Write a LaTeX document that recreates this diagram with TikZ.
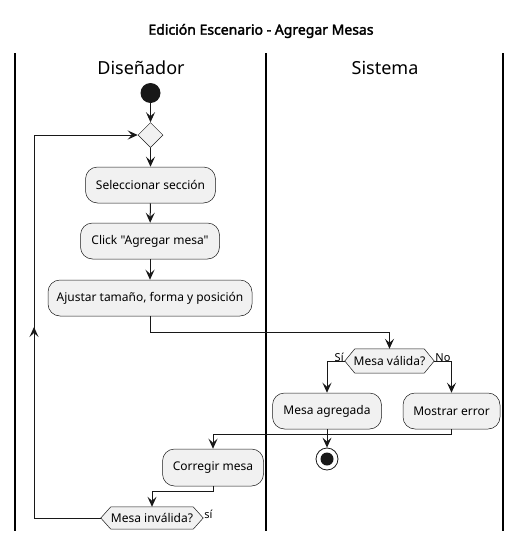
\documentclass[tikz,border=0pt]{standalone}
\usepackage{fontspec}
\setmainfont{Noto Sans}[AutoFakeBold=2.2, Ligatures=TeXOff]
\usetikzlibrary{arrows.meta,shapes.geometric,backgrounds}
\definecolor{lc}{HTML}{181818}
\definecolor{bf}{HTML}{F1F1F1}
\tikzset{
  every node/.style={font=\fontsize{12}{14}\selectfont, text=black},
  actbox/.style={draw=lc, line width=0.5pt, fill=bf, rounded corners=12pt, inner sep=0pt, minimum height=36pt},
  arr/.style={draw=lc, line width=1pt, -{Stealth[length=10pt,width=9pt,inset=4pt]}},
  ln/.style={draw=lc, line width=1pt},
  lane/.style={draw=black, line width=1.5pt},
  hexn/.style={inner sep=0pt, minimum height=24pt},
  hexs/.style={draw=lc, line width=0.5pt, fill=bf},
  lbl/.style={font=\fontsize{11}{13}\selectfont, inner sep=0pt},
}
\begin{document}
\begin{tikzpicture}[x=1pt,y=-1pt]
\useasboundingbox (0,0) rectangle (522,541);
% title
\node[font=\fontsize{14}{16}\selectfont\bfseries] (title) at (261,31) {Edición Escenario - Agregar Mesas};
% lanes
\draw[lane] (15,53) -- (15,531);
\draw[lane] (266,53) -- (266,531);
\draw[lane] (503,53) -- (503,531);
\node[font=\fontsize{18}{20}\selectfont] (l1) at (141,68) {Diseñador};
\node[font=\fontsize{18}{20}\selectfont] (l2) at (385,68) {Sistema};
% start
\node[circle, fill=lc, minimum size=20pt, inner sep=0pt] (start) at (150.5,93) {};
\node[diamond, draw=lc, line width=0.5pt, fill=bf, minimum size=25pt, inner sep=0pt] (merge) at (150.5,135) {};
\node[actbox, minimum width=130pt] (sel) at (150.5,185) {Seleccionar sección};
\node[actbox, minimum width=139pt] (click) at (150,241) {Click "Agregar mesa"};
\node[actbox, minimum width=204pt] (aj) at (150,298) {Ajustar tamaño, forma y posición};
% decision 1
\node[hexn, minimum width=89pt] (dec) at (389.5,361) {Mesa válida?};
\node[actbox, minimum width=109pt] (agr) at (327,411) {Mesa agregada};
\node[actbox, minimum width=97pt] (err) at (451.5,411) {Mostrar error};
% end
\node[circle, draw=lc, line width=0.8pt, fill=white, minimum size=22pt, inner sep=0pt] (stop) at (327,459) {};
\node[circle, fill=lc, minimum size=13pt, inner sep=0pt] (stopin) at (stop.center) {};
% correction
\node[actbox, minimum width=101pt, minimum height=37pt] (corr) at (213,467.5) {Corregir mesa};
\node[hexn, minimum width=102pt, minimum height=22pt] (inv) at (152,518) {Mesa inválida?};
% hexagon shapes
\begin{pgfonlayer}{background}
\draw[hexs] (dec.west) -- ([xshift=10pt]dec.north west) -- ([xshift=-10pt]dec.north east) -- (dec.east) -- ([xshift=-10pt]dec.south east) -- ([xshift=10pt]dec.south west) -- cycle;
\draw[hexs] (inv.west) -- ([xshift=10pt]inv.north west) -- ([xshift=-10pt]inv.north east) -- (inv.east) -- ([xshift=-10pt]inv.south east) -- ([xshift=10pt]inv.south west) -- cycle;
\end{pgfonlayer}
% connectors
\draw[arr] (start) -- (merge);
\draw[arr] (merge) -- (sel);
\draw[arr] (sel) -- (click);
\draw[arr] (click) -- (aj);
\coordinate (c1) at (150,332);
\draw[arr] (aj.south) -- (c1) -| (dec.north);
\draw[arr] (dec.west) -| (agr.north);
\draw[arr] (dec.east) -| (err.north);
\node[lbl, anchor=south east] (si1) at ([xshift=-1pt,yshift=-1pt]dec.west) {Sí};
\node[lbl, anchor=south west] (no1) at ([xshift=1pt,yshift=-1pt]dec.east) {No};
\draw[arr] (agr.south) -- (stop);
\coordinate (c2) at (451.5,434);
\draw[arr] (err.south) -- (c2) -| (corr.north);
\coordinate (c3) at (213,491);
\draw[arr] (corr.south) -- (c3) -| (inv.north);
\node[lbl, anchor=south west] (si2) at ([xshift=1pt,yshift=-1pt]inv.east) {sí};
\coordinate (lb) at (34,518);
\coordinate (lt) at (34,135);
\coordinate (lm) at (34,327);
\draw[arr] (inv.west) -- (lb) -- (lt) -- (merge.west);
\draw[arr] (lb) -- (lm);
\end{tikzpicture}
\end{document}
